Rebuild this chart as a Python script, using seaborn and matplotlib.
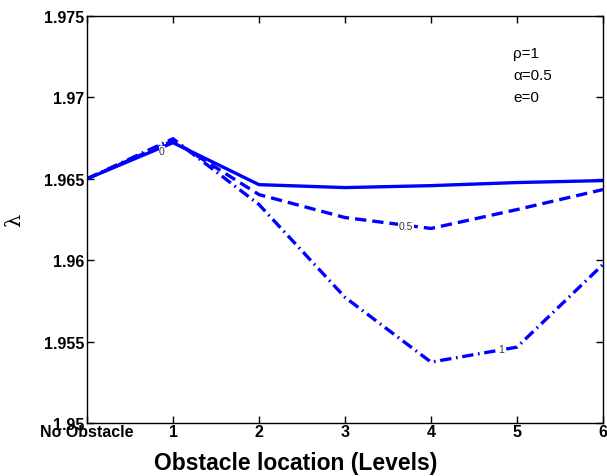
import matplotlib
matplotlib.use("Agg")
import matplotlib.pyplot as plt
import seaborn as sns
import pandas as pd

levels = [0, 1, 2, 3, 4, 5, 6]
x_labels = ["No Obstacle", "1", "2", "3", "4", "5", "6"]
lam_e0 = [1.9650, 1.96722, 1.96464, 1.96446, 1.96458, 1.96477, 1.96489]
lam_e05 = [1.9650, 1.96734, 1.96403, 1.96262, 1.96195, 1.96311, 1.96434]
lam_e1 = [1.9650, 1.96746, 1.96342, 1.95772, 1.95374, 1.95466, 1.95974]
series_names = ["0", "0.5", "1"]
y_ticks = [1.95, 1.955, 1.96, 1.965, 1.97, 1.975]
y_tick_labels = ["1.95", "1.955", "1.96", "1.965", "1.97", "1.975"]

sns.set_theme(style="white")
plt.rcParams["font.family"] = ["Liberation Sans", "DejaVu Sans"]
plt.rcParams["text.color"] = "black"
plt.rcParams["axes.labelcolor"] = "black"

rows = []
for name, vals in zip(series_names, [lam_e0, lam_e05, lam_e1]):
    for lv, v in zip(levels, vals):
        rows.append({"level": lv, "lam": v, "e": name})
df = pd.DataFrame(rows)

fig = plt.figure(figsize=(6.07, 4.77), dpi=100)
ax = fig.add_axes([87 / 607, 1 - 424 / 477, (603 - 87) / 607, (424 - 17) / 477])

dashes = {"0": "", "0.5": (3.4, 1.8), "1": (3.4, 1.4, 0.5, 1.4)}
sns.lineplot(data=df, x="level", y="lam", hue="e", style="e",
             palette={"0": "#0000ff", "0.5": "#0000ff", "1": "#0000ff"},
             dashes=dashes, linewidth=2.4, legend=False, ax=ax)

ax.set_xlim(0, 6)
ax.set_ylim(1.95, 1.975)
ax.set_xticks(levels)
ax.set_xticklabels(x_labels, fontweight="bold", fontsize=11.5)
ax.set_yticks(y_ticks)
ax.set_yticklabels(y_tick_labels, fontweight="bold", fontsize=11.5)
ax.tick_params(direction="in", length=5, width=1, top=True, right=True,
               bottom=True, left=True, colors="black")
ax.tick_params(axis="x", pad=1)
ax.tick_params(axis="y", pad=2)
for sp in ax.spines.values():
    sp.set_visible(True)
    sp.set_color("black")
    sp.set_linewidth(1.0)

ax.set_xlabel("Obstacle location (Levels)", fontsize=16.5, fontweight="bold",
              va="center", color="black")
ax.xaxis.set_label_coords((296 - 87) / 516, -(464 - 424) / 407)
ax.set_ylabel("λ", fontsize=15, labelpad=14, family=["DejaVu Serif"], color="black")

# inline contour-style labels
lbl_kw = dict(fontsize=7.5, color="#333333", ha="center", va="center",
              bbox=dict(facecolor="white", edgecolor="none", pad=0.3))
ax.text(0.87, 1.96668, "0", **lbl_kw)
ax.text(3.71, 1.96210, "0.5", **lbl_kw)
ax.text(4.82, 1.95455, "1", **lbl_kw)

for i, t in enumerate(["ρ=1", "α=0.5", "e=0"]):
    ax.text(0.826, 0.908 - i * 0.054, t, transform=ax.transAxes, fontsize=11,
            ha="left", va="center", color="black")

fig.savefig("out.png", dpi=100)
